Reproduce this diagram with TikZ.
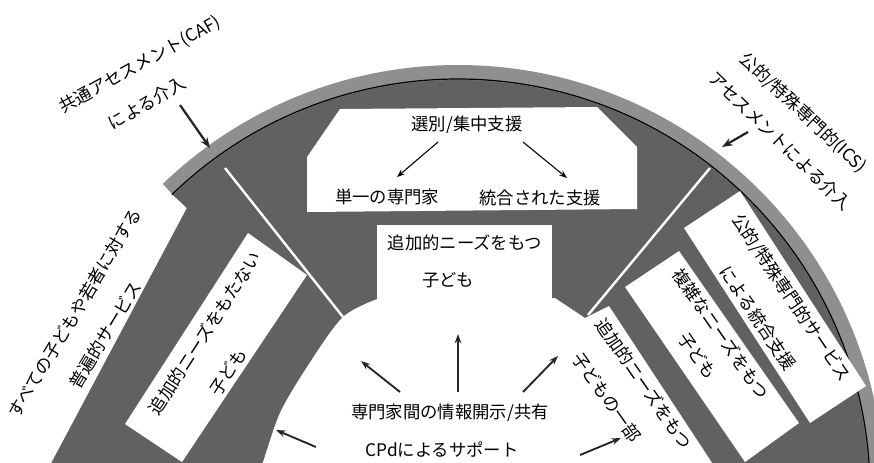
\documentclass[tikz,border=0pt]{standalone}
\usepackage{fontspec}
\setmainfont{Noto Sans CJK JP}
\usetikzlibrary{arrows.meta}
\definecolor{stipc}{gray}{0.38}
\definecolor{ringc}{gray}{0.56}
\begin{document}
\begin{tikzpicture}[x=0.75pt,y=-0.75pt,
  txt/.style={inner sep=0pt, font=\fontsize{13}{15}\selectfont},
  wbox/.style={fill=white},
  sepline/.style={white, line width=1.8pt},
  arcline/.style={black, line width=0.9pt},
  bigarrow/.style={-{Stealth[length=8pt,width=6pt]}, line width=1.7pt, black!85},
  midarrow/.style={-{Stealth[length=7pt,width=5pt]}, line width=1.4pt, black!85},
  thinarrow/.style={-{Stealth[length=6pt,width=4.5pt]}, line width=0.8pt}]
\useasboundingbox (0,0) rectangle (874,462);
\begin{scope}
\clip (0,0) rectangle (874,462);
% stippled arch
\begin{scope}
\clip (45,475) -- (187,208) -- (173,195) -- (162,183) -- (10,25) -- (10,-20) -- (900,-20) -- (900,475) -- cycle;
\fill[ringc] (458,491) circle[radius=426];
\fill[stipc] (458,491) circle[radius=411];
\end{scope}
\draw[arcline] (458,491) ++(-134:412) arc[start angle=-134, end angle=2, radius=412];
% inner white region
\fill[white] plot[smooth] coordinates {(258,475) (263,462) (280,413) (307,367) (343,317) (380,298)} -- (555,298) -- (585,318) -- (609,306) -- (720,475) -- cycle;
% separators
\coordinate (sepL1) at (225,168);
\coordinate (sepL2) at (343,317);
\coordinate (sepR1) at (710,168);
\coordinate (sepR2) at (588,315);
\draw[sepline] (sepL1) -- (sepL2);
\draw[sepline] (sepR1) -- (sepR2);
% top box
\fill[wbox] (340,109) -- (597,107) -- (637,147) -- (637,209) -- (307,212) -- (307,157) -- cycle;
% middle box
\fill[wbox] (377,225) rectangle (552,300);
% left arm box
\fill[wbox] (248,233) -- (307,275) -- (182,462) -- (125,424) -- cycle;
% right arm boxes
\fill[wbox] (625,287) -- (679,251) -- (799,423) -- (745,462) -- cycle;
\fill[wbox] (684,228) -- (740,191) -- (866,386) -- (810,423) -- cycle;
\end{scope}
% texts
\node[txt] (sel) at (467,125) {選別/集中支援};
\node[txt] (single) at (387,197) {単一の専門家};
\node[txt] (integ) at (540,198) {統合された支援};
\node[txt] (add1) at (465,243) {追加的ニーズをもつ};
\node[txt] (add2) at (448,280) {子ども};
\node[txt] (share) at (450,413) {専門家間の情報開示/共有};
\node[txt] (cpd) at (442,450) {CPdによるサポート};
\node[txt,rotate=59] (univ1) at (75,313) {すべての子どもや若者に対する};
\node[txt,rotate=59] (univ2) at (105,335) {普遍的サービス};
\node[txt,rotate=57] (noadd1) at (205,333) {追加的ニーズをもたない};
\node[txt,rotate=57] (noadd2) at (228,372) {子ども};
\node[txt,rotate=-56] (pub1) at (791,298) {公的/特殊専門的サービス};
\node[txt,rotate=-56] (pub2) at (758,318) {による統合支援};
\node[txt,rotate=-55] (cmp1) at (721,334) {複雑なニーズをもつ};
\node[txt,rotate=-55] (cmp2) at (698,356) {子ども};
\node[txt,rotate=-55] (part1) at (644,384) {追加的ニーズをもつ};
\node[txt,rotate=-55] (part2) at (607,397) {子どもの一部};
\node[txt,rotate=29] (caf1) at (140,65) {共通アセスメント(CAF)};
\node[txt,rotate=30] (caf2) at (147,103) {による介入};
\node[txt,rotate=-43] (ics1) at (803,113) {公的/特殊専門的(ICS)};
\node[txt,rotate=-44] (ics2) at (780,141) {アセスメントによる介入};
% arrows
\coordinate (cafS) at (180,105);
\coordinate (cafE) at (210,148);
\coordinate (icsS) at (748,132);
\coordinate (icsE) at (722,147);
\coordinate (selL) at (438,142);
\coordinate (selLE) at (397,177);
\coordinate (selR) at (523,142);
\coordinate (selRE) at (567,178);
\coordinate (m1S) at (400,392);
\coordinate (m1E) at (361,361);
\coordinate (m2S) at (458,392);
\coordinate (m2E) at (458,334);
\coordinate (m3S) at (523,392);
\coordinate (m3E) at (558,356);
\coordinate (m4S) at (316,447);
\coordinate (m4E) at (276,430);
\coordinate (m5S) at (580,455);
\coordinate (m5E) at (621,438);
\draw[bigarrow] (cafS) -- (cafE);
\draw[bigarrow] (icsS) -- (icsE);
\draw[thinarrow] (selL) -- (selLE);
\draw[thinarrow] (selR) -- (selRE);
\draw[midarrow] (m1S) -- (m1E);
\draw[midarrow] (m2S) -- (m2E);
\draw[midarrow] (m3S) -- (m3E);
\draw[midarrow] (m4S) -- (m4E);
\draw[midarrow] (m5S) -- (m5E);
\end{tikzpicture}
\end{document}
